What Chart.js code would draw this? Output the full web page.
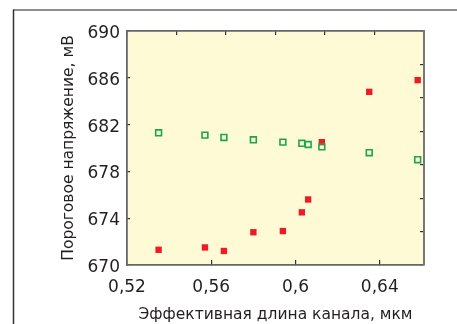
<!DOCTYPE html>
<html>
<head>
<meta charset="utf-8">
<script src="https://cdn.jsdelivr.net/npm/chart.js@4.4.1/dist/chart.umd.min.js"></script>
<style>
html,body{margin:0;padding:0;background:#fff;}
#wrap{width:457px;height:324px;}
</style>
</head>
<body>
<div id="wrap"><canvas id="c" width="457" height="324"></canvas></div>
<script>
// Data
const lengthX = [0.535, 0.557, 0.566, 0.580, 0.594, 0.603, 0.606, 0.6125, 0.635, 0.658];
const redVoltage = [671.3, 671.5, 671.2, 672.8, 672.9, 674.5, 675.6, 680.5, 684.8, 685.8];
const greenVoltage = [681.3, 681.1, 680.9, 680.7, 680.5, 680.4, 680.3, 680.1, 679.6, 679.0];
const xTickValues = [0.52, 0.56, 0.6, 0.64];
const xTickLabels = ['0,52', '0,56', '0,6', '0,64'];
const yTickValues = [670, 674, 678, 682, 686, 690];
const yTickLabels = ['670', '674', '678', '682', '686', '690'];
const xTitle = 'Эффективная длина канала, мкм';
const yTitle = 'Пороговое напряжение, мВ';

const FONT = 'DejaVu Sans';
const toPts = (ys) => lengthX.map((x, i) => ({x: x, y: ys[i]}));

const framePlugin = {
  id: 'frame',
  beforeDraw(chart) {
    const {ctx, chartArea: a} = chart;
    ctx.save();
    ctx.fillStyle = '#FFFAD6';
    ctx.fillRect(a.left, a.top, a.right - a.left, a.bottom - a.top);
    ctx.lineWidth = 1.5;
    ctx.strokeStyle = '#6a6a6a';
    ctx.beginPath();
    ctx.moveTo(13, 10);
    ctx.lineTo(457, 10);
    ctx.stroke();
    ctx.strokeStyle = '#333';
    ctx.beginPath();
    ctx.moveTo(13.5, 324);
    ctx.lineTo(13.5, 9.5);
    ctx.stroke();
    ctx.restore();
  }
};

new Chart(document.getElementById('c'), {
  type: 'scatter',
  data: {
    datasets: [
      {
        label: 'green',
        data: toPts(greenVoltage),
        pointStyle: 'rect',
        pointRadius: 4.1,
        backgroundColor: 'rgba(0,0,0,0)',
        borderColor: '#1CA64A',
        borderWidth: 1.6,
        order: 0
      },
      {
        label: 'red',
        data: toPts(redVoltage),
        pointStyle: 'rect',
        pointRadius: 4.5,
        backgroundColor: '#ED1C24',
        borderColor: '#ED1C24',
        borderWidth: 0,
        order: 1
      }
    ]
  },
  options: {
    responsive: false,
    animation: false,
    events: [],
    layout: {padding: 0},
    plugins: {legend: {display: false}, tooltip: {enabled: false}},
    scales: {
      x: {
        type: 'linear', position: 'bottom',
        min: 0.52, max: 0.661,
        afterBuildTicks: (s) => { s.ticks = xTickValues.map(v => ({value: v})); },
        afterFit: (s) => { s.height = 59; },
        ticks: {
          callback: (v) => xTickLabels[xTickValues.indexOf(v)] ?? '',
          font: {family: FONT, size: 17}, color: '#231F20', padding: 17.5, maxRotation: 0, autoSkip: false
        },
        grid: {drawOnChartArea: false, drawTicks: true, tickLength: -5, color: '#333', lineWidth: 1.2},
        border: {display: true, color: '#666', width: 1.8},
        title: {display: true, text: xTitle, font: {family: FONT, size: 15.5}, color: '#231F20', padding: {top: 0, bottom: 0}}
      },
      x2: {
        type: 'linear', position: 'top',
        min: 0, max: 6,
        ticks: {display: false, stepSize: 1},
        afterFit: (s) => { s.height = 31; },
        grid: {drawOnChartArea: false, drawTicks: true, tickLength: -4, color: '#333', lineWidth: 1.2},
        border: {display: true, color: '#666', width: 1.8}
      },
      y: {
        type: 'linear', position: 'left',
        min: 670, max: 690,
        afterBuildTicks: (s) => { s.ticks = yTickValues.map(v => ({value: v})); },
        afterFit: (s) => { s.width = 127; },
        ticks: {
          callback: (v) => yTickLabels[yTickValues.indexOf(v)] ?? '',
          font: {family: FONT, size: 17}, color: '#231F20', padding: 10, labelOffset: 2.5
        },
        grid: {drawOnChartArea: false, drawTicks: true, tickLength: -3, color: '#333', lineWidth: 1.2},
        border: {display: true, color: '#666', width: 1.8},
        title: {display: true, text: yTitle, font: {family: FONT, size: 15.5}, color: '#231F20', padding: {top: 60, bottom: 0}}
      },
      y2: {
        type: 'linear', position: 'right',
        min: 0, max: 7,
        ticks: {display: false, stepSize: 1},
        afterFit: (s) => { s.width = 33; },
        grid: {drawOnChartArea: false, drawTicks: true, tickLength: -4, color: '#333', lineWidth: 1.2},
        border: {display: true, color: '#777', width: 2}
      }
    }
  },
  plugins: [framePlugin]
});
</script>
</body>
</html>
